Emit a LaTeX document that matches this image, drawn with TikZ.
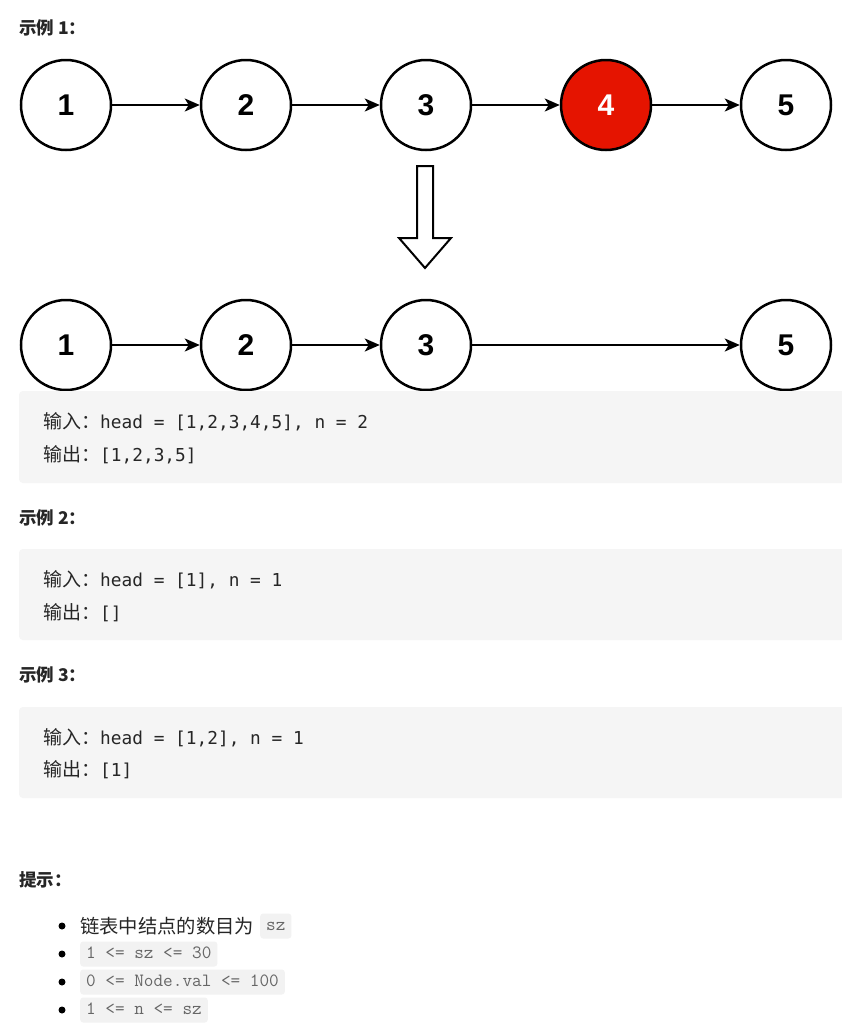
\documentclass[tikz,border=0pt]{standalone}
\usepackage{fontspec}
\setmainfont{Liberation Sans}
\newfontfamily\cjk{Noto Sans CJK SC}
\newfontfamily\mono{DejaVu Sans Mono}
\newfontfamily\inlmono{Latin Modern Mono}
\usetikzlibrary{arrows.meta}
\definecolor{txt}{HTML}{262626}
\definecolor{codebg}{HTML}{F5F5F5}
\definecolor{inlbg}{HTML}{F2F2F2}
\definecolor{inltxt}{HTML}{666666}
\definecolor{nodered}{HTML}{E51400}
\begin{document}
\begin{tikzpicture}[x=1pt,y=-1pt,
  lnode/.style={circle,draw=black,line width=2.5pt,minimum size=90pt,inner sep=0pt,fill=white,
    font=\fontsize{30}{30}\selectfont\bfseries},
  rednode/.style={lnode,fill=nodered,text=white},
  arr/.style={line width=2.2pt,-{Stealth[length=15pt,width=13pt,inset=4pt]}},
  heading/.style={anchor=base west,inner sep=0pt,text=txt,font=\cjk\fontsize{17.5}{17.5}\selectfont\bfseries},
  codebox/.style={fill=codebg,rounded corners=4pt},
  codeline/.style={anchor=base west,inner sep=0pt,text=txt,font=\mono\fontsize{17.8}{17.8}\selectfont},
  itemtext/.style={anchor=west,inner sep=0pt,text=txt,font=\cjk\fontsize{19.3}{19.3}\selectfont},
  inl/.style={anchor=west,fill=inlbg,rounded corners=3pt,inner xsep=6pt,inner ysep=4pt,
    text height=13pt,text depth=4pt,text=inltxt,font=\inlmono\fontsize{18.7}{18.7}\selectfont},
  bulletdot/.style={circle,fill=black,inner sep=0pt,minimum size=7pt}
]
\useasboundingbox (0,0) rectangle (841,1028);
\fill[white] (0,0) rectangle (841,1028);

% Example 1 heading
\node[heading] (h1) at (19,34) {示例 1：};

% Row 1
\node[lnode] (a1) at (66,105) {1};
\node[lnode] (a2) at (246,105) {2};
\node[lnode] (a3) at (426,105) {3};
\node[rednode] (a4) at (606,105) {4};
\node[lnode] (a5) at (786,105) {5};
\draw[arr] (a1) -- (a2);
\draw[arr] (a2) -- (a3);
\draw[arr] (a3) -- (a4);
\draw[arr] (a4) -- (a5);

% Down block arrow
\draw[line width=2pt,fill=white,line join=miter]
  (417,166) -- (433,166) -- (433,238) -- (451,238) -- (425,268) -- (399,238) -- (417,238) -- cycle;

% Row 2
\node[lnode] (b1) at (66,345) {1};
\node[lnode] (b2) at (246,345) {2};
\node[lnode] (b3) at (426,345) {3};
\node[lnode] (b5) at (786,345) {5};
\draw[arr] (b1) -- (b2);
\draw[arr] (b2) -- (b3);
\draw[arr] (b3) -- (b5);

% Code box 1
\fill[codebox] (19,391) rectangle (852,483);
\node[codeline] (c11) at (43,428) {{\cjk\fontsize{19}{19}\selectfont 输入：}head = [1,2,3,4,5], n = 2};
\node[codeline] (c12) at (43,461) {{\cjk\fontsize{19}{19}\selectfont 输出：}[1,2,3,5]};

% Example 2
\node[heading] (h2) at (19,524) {示例 2：};
\fill[codebox] (19,549) rectangle (852,640);
\node[codeline] (c21) at (43,586) {{\cjk\fontsize{19}{19}\selectfont 输入：}head = [1], n = 1};
\node[codeline] (c22) at (43,619) {{\cjk\fontsize{19}{19}\selectfont 输出：}[]};

% Example 3
\node[heading] (h3) at (19,681) {示例 3：};
\fill[codebox] (19,707) rectangle (852,798);
\node[codeline] (c31) at (43,744) {{\cjk\fontsize{19}{19}\selectfont 输入：}head = [1,2], n = 1};
\node[codeline] (c32) at (43,776) {{\cjk\fontsize{19}{19}\selectfont 输出：}[1]};

% Hints
\node[heading] (h4) at (19,886) {提示：};

\node[bulletdot] (d1) at (62,926) {};
\node[itemtext] (t1) at (80,926) {链表中结点的数目为};
\node[inl] (s1) at (260,926) {sz};

\node[bulletdot] (d2) at (62,954) {};
\node[inl] (s2) at (80,954) {1 <= sz <= 30};

\node[bulletdot] (d3) at (62,982) {};
\node[inl] (s3) at (80,982) {0 <= Node.val <= 100};

\node[bulletdot] (d4) at (62,1010) {};
\node[inl] (s4) at (80,1010) {1 <= n <= sz};
\end{tikzpicture}
\end{document}
